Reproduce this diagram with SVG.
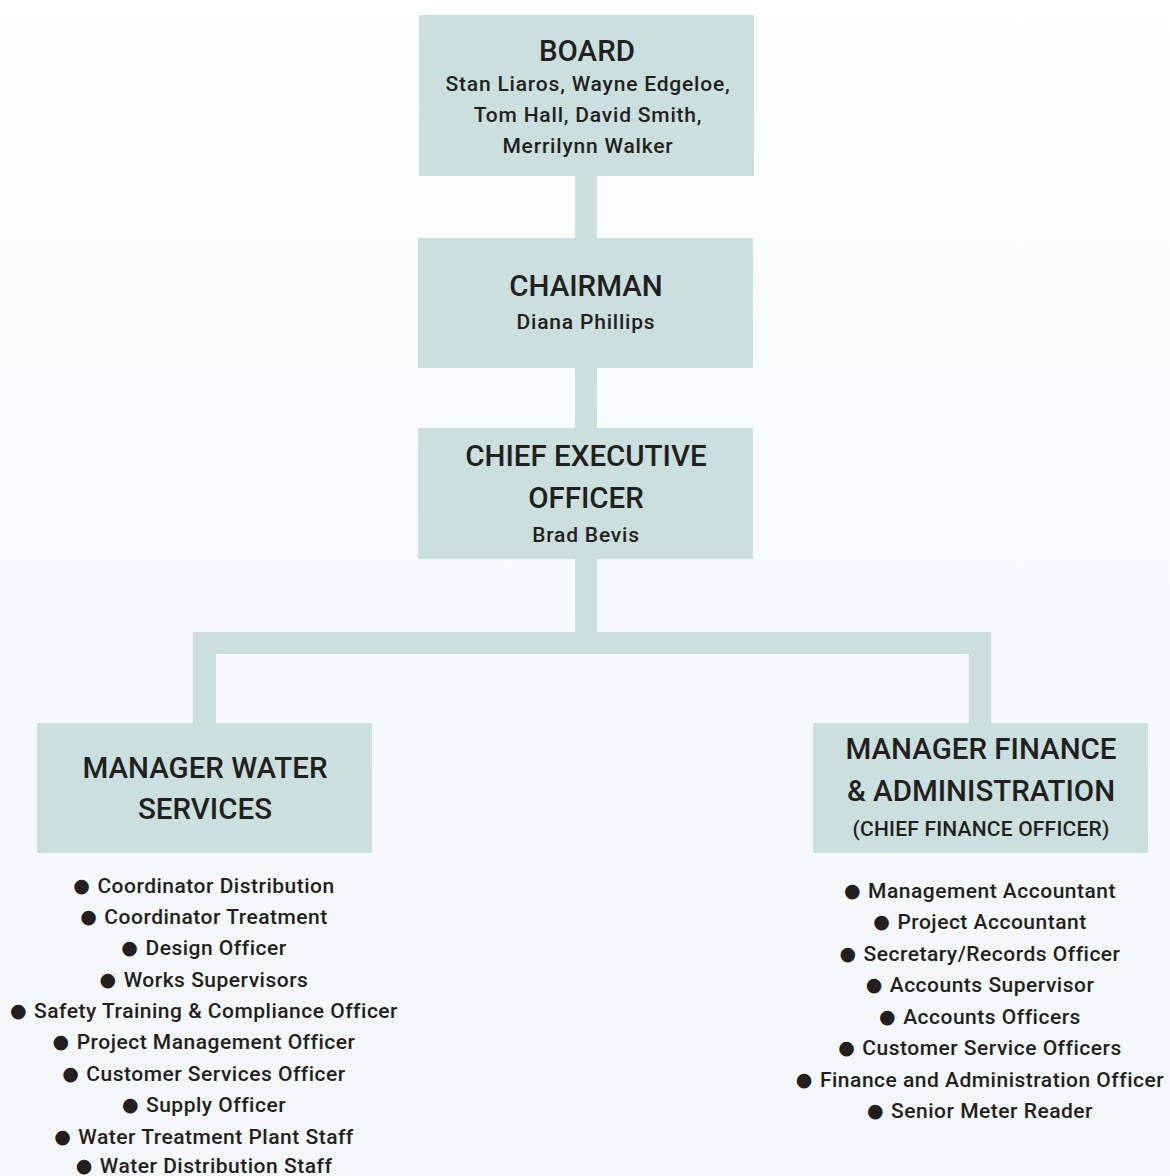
<svg xmlns="http://www.w3.org/2000/svg" width="1170" height="1176" viewBox="0 0 1170 1176">
  <defs>
    <linearGradient id="bg" x1="0" y1="0" x2="0" y2="1">
      <stop offset="0" stop-color="#ffffff"/>
      <stop offset="0.45" stop-color="#f6fafa"/>
      <stop offset="1" stop-color="#f3f7f9"/>
    </linearGradient>
  </defs>
  <style>
    .box { fill: #cbdfdf; }
    .link { fill: #cbdfdf; }
    text { font-family: "Roboto", "Liberation Sans", sans-serif; fill: #231f20; text-anchor: middle; }
    .title { font-size: 29.5px; font-weight: 500; }
    .sub { font-size: 21px; font-weight: 500; letter-spacing: 0.8px; }
    .small { font-size: 21px; font-weight: 500; letter-spacing: 0.2px; }
    .item { font-size: 21px; font-weight: 500; letter-spacing: 0.5px; }
    .b { font-family: "DejaVu Sans", sans-serif; font-size: 19px; }
  </style>

  <rect x="0" y="0" width="1170" height="1176" fill="url(#bg)"/>

  <!-- connectors -->
  <g id="connectors">
    <rect class="link" x="575" y="176" width="22" height="62"/>
    <rect class="link" x="575" y="368" width="22" height="60"/>
    <rect class="link" x="575" y="559" width="22" height="84"/>
    <rect class="link" x="193" y="632" width="798" height="22"/>
    <rect class="link" x="193" y="632" width="23" height="91"/>
    <rect class="link" x="969" y="632" width="22" height="91"/>
  </g>

  <g id="board">
    <rect class="box" x="419" y="15" width="335" height="161"/>
    <text class="title" x="587" y="61">BOARD</text>
    <text class="sub" x="588" y="91">Stan Liaros, Wayne Edgeloe,</text>
    <text class="sub" x="588" y="122">Tom Hall, David Smith,</text>
    <text class="sub" x="588" y="153">Merrilynn Walker</text>
  </g>

  <g id="chairman">
    <rect class="box" x="418" y="238" width="335" height="130"/>
    <text class="title" x="586" y="296">CHAIRMAN</text>
    <text class="sub" x="586" y="329">Diana Phillips</text>
  </g>

  <g id="ceo">
    <rect class="box" x="418" y="428" width="335" height="131"/>
    <text class="title" x="586" y="466">CHIEF EXECUTIVE</text>
    <text class="title" x="586" y="508">OFFICER</text>
    <text class="sub" x="586" y="542">Brad Bevis</text>
  </g>

  <g id="manager-water">
    <rect class="box" x="37" y="723" width="335" height="130"/>
    <text class="title" x="205" y="778">MANAGER WATER</text>
    <text class="title" x="205" y="819">SERVICES</text>
  </g>

  <g id="manager-finance">
    <rect class="box" x="813" y="723" width="335" height="130"/>
    <text class="title" x="981" y="759">MANAGER FINANCE</text>
    <text class="title" x="981" y="801">&amp; ADMINISTRATION</text>
    <text class="small" x="981" y="836">(CHIEF FINANCE OFFICER)</text>
  </g>

  <g id="water-staff">
    <text class="item" x="204" y="893"><tspan class="b" dy="-1.5">●</tspan><tspan dx="7" dy="1.5">Coordinator Distribution</tspan></text>
    <text class="item" x="204" y="924"><tspan class="b" dy="-1.5">●</tspan><tspan dx="7" dy="1.5">Coordinator Treatment</tspan></text>
    <text class="item" x="204" y="955"><tspan class="b" dy="-1.5">●</tspan><tspan dx="7" dy="1.5">Design Officer</tspan></text>
    <text class="item" x="204" y="987"><tspan class="b" dy="-1.5">●</tspan><tspan dx="7" dy="1.5">Works Supervisors</tspan></text>
    <text class="item" x="204" y="1018"><tspan class="b" dy="-1.5">●</tspan><tspan dx="7" dy="1.5">Safety Training &amp; Compliance Officer</tspan></text>
    <text class="item" x="204" y="1049"><tspan class="b" dy="-1.5">●</tspan><tspan dx="7" dy="1.5">Project Management Officer</tspan></text>
    <text class="item" x="204" y="1081"><tspan class="b" dy="-1.5">●</tspan><tspan dx="7" dy="1.5">Customer Services Officer</tspan></text>
    <text class="item" x="204" y="1112"><tspan class="b" dy="-1.5">●</tspan><tspan dx="7" dy="1.5">Supply Officer</tspan></text>
    <text class="item" x="204" y="1144"><tspan class="b" dy="-1.5">●</tspan><tspan dx="7" dy="1.5">Water Treatment Plant Staff</tspan></text>
    <text class="item" x="204" y="1173"><tspan class="b" dy="-1.5">●</tspan><tspan dx="7" dy="1.5">Water Distribution Staff</tspan></text>
  </g>

  <g id="finance-staff">
    <text class="item" x="980" y="898"><tspan class="b" dy="-1.5">●</tspan><tspan dx="7" dy="1.5">Management Accountant</tspan></text>
    <text class="item" x="980" y="929"><tspan class="b" dy="-1.5">●</tspan><tspan dx="7" dy="1.5">Project Accountant</tspan></text>
    <text class="item" x="980" y="961"><tspan class="b" dy="-1.5">●</tspan><tspan dx="7" dy="1.5">Secretary/Records Officer</tspan></text>
    <text class="item" x="980" y="992"><tspan class="b" dy="-1.5">●</tspan><tspan dx="7" dy="1.5">Accounts Supervisor</tspan></text>
    <text class="item" x="980" y="1024"><tspan class="b" dy="-1.5">●</tspan><tspan dx="7" dy="1.5">Accounts Officers</tspan></text>
    <text class="item" x="980" y="1055"><tspan class="b" dy="-1.5">●</tspan><tspan dx="7" dy="1.5">Customer Service Officers</tspan></text>
    <text class="item" x="980" y="1087"><tspan class="b" dy="-1.5">●</tspan><tspan dx="7" dy="1.5">Finance and Administration Officer</tspan></text>
    <text class="item" x="980" y="1118"><tspan class="b" dy="-1.5">●</tspan><tspan dx="7" dy="1.5">Senior Meter Reader</tspan></text>
  </g>
</svg>
